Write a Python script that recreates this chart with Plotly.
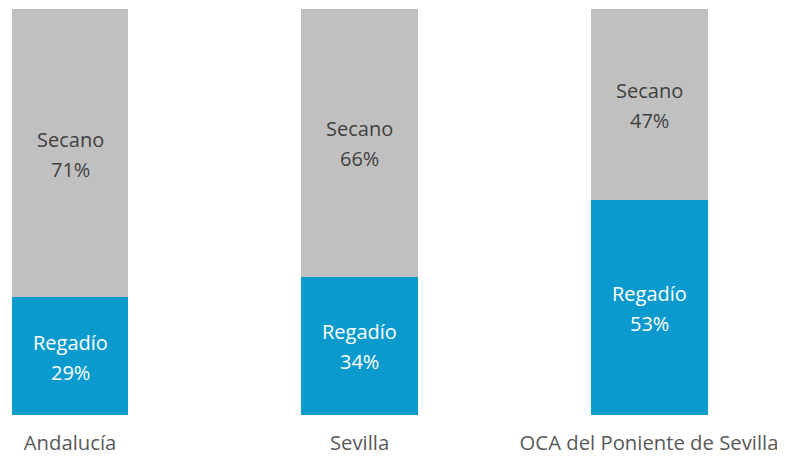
import plotly.graph_objects as go

categories = ["Andalucía", "Sevilla", "OCA del Poniente de Sevilla"]
regadio = [29, 34, 53]
secano = [71, 66, 47]
series_names = ["Regadío", "Secano"]

BLUE = "#0a9acd"
GRAY = "#c0c0c0"
FONT = "Open Sans, Liberation Sans, sans-serif"

fig = go.Figure()
fig.add_trace(go.Bar(x=categories, y=regadio, name=series_names[0],
                     marker=dict(color=BLUE, line=dict(width=0)), width=0.404))
fig.add_trace(go.Bar(x=categories, y=secano, name=series_names[1],
                     marker=dict(color=GRAY, line=dict(width=0)), width=0.404))

annotations = []
for c, r, s in zip(categories, regadio, secano):
    for name, val, base, col in [(series_names[0], r, 0, "white"),
                                 (series_names[1], s, r, "#404040")]:
        mid = base + val / 2
        annotations.append(dict(x=c, y=mid, text=name, showarrow=False,
                                yshift=14, font=dict(family=FONT, size=20, color=col)))
        annotations.append(dict(x=c, y=mid, text=f"{val}%", showarrow=False,
                                yshift=-16, font=dict(family=FONT, size=20, color=col)))

fig.update_layout(
    barmode="stack",
    width=777, height=449,
    margin=dict(l=0, r=0, t=1, b=42),
    paper_bgcolor="white", plot_bgcolor="white",
    showlegend=False,
    annotations=annotations,
    xaxis=dict(type="category", range=[-0.2142, 2.4697], showgrid=False,
               zeroline=False, showline=False, ticks="", ticklabelstandoff=14,
               tickfont=dict(family=FONT, size=20.3, color="#595959")),
    yaxis=dict(range=[0, 100], visible=False),
)
fig.write_html("out.html")
